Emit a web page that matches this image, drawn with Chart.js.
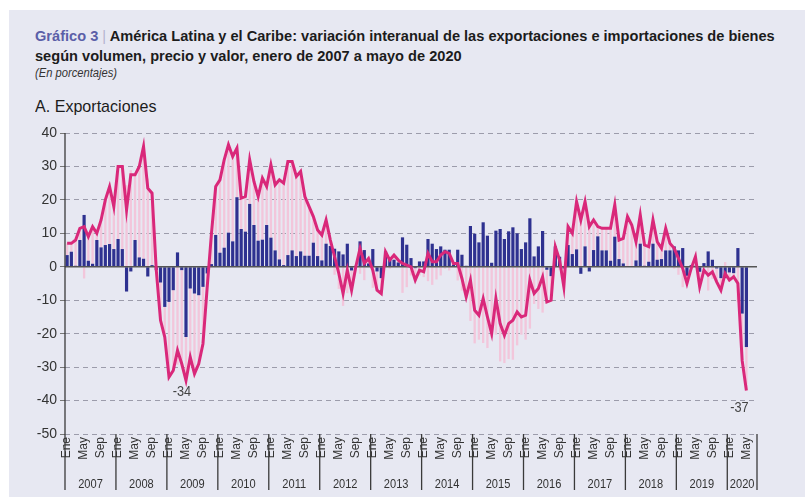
<!DOCTYPE html>
<html lang="es">
<head>
<meta charset="utf-8">
<title>Gráfico 3</title>
<script src="https://cdn.jsdelivr.net/npm/chart.js@4.4.1/dist/chart.umd.min.js"></script>
<style>
  html, body { margin: 0; padding: 0; background: #fff; }
  body { width: 805px; height: 504px; position: relative; overflow: hidden;
         font-family: 'Liberation Sans', Arial, sans-serif; color: #1c1c1c; }
  #panel { position: absolute; left: 9px; top: 10px; width: 796px; height: 487px; background: #e7e8f2; }
  .txt { position: absolute; left: 35px; white-space: nowrap; line-height: 20px; transform-origin: 0 50%; }
  #t1 { top: 26px; font-size: 15.5px; font-weight: bold; }
  #t1 .num { color: #5b5fa8; }
  #t1 .sep { color: #b4b4cf; font-weight: normal; }
  #t2 { top: 46px; font-size: 15.5px; font-weight: bold; }
  #t3 { top: 63px; font-size: 12px; font-style: italic; color: #333; }
  #t4 { top: 97px; font-size: 17px; color: #1c1c1c; }
  #wrap { position: absolute; left: 0; top: 118px; width: 805px; height: 382px; }
</style>
</head>
<body>
<div id="panel"></div>
<div class="txt" id="t1"><span class="num">Gráfico 3</span> <span class="sep">|</span> América Latina y el Caribe: variación interanual de las exportaciones e importaciones de bienes</div>
<div class="txt" id="t2">según volumen, precio y valor, enero de 2007 a mayo de 2020</div>
<div class="txt" id="t3">(En porcentajes)</div>
<div class="txt" id="t4">A. Exportaciones</div>
<div id="wrap"><canvas id="grafico"></canvas></div>
<script>
const fuente = "'Liberation Sans', Arial, sans-serif";

const years = [2007, 2008, 2009, 2010, 2011, 2012, 2013, 2014, 2015, 2016, 2017, 2018, 2019, 2020];
const monthNames = ['Ene', 'Feb', 'Mar', 'Abr', 'May', 'Jun', 'Jul', 'Ago', 'Sep', 'Oct', 'Nov', 'Dic'];
const shownMonths = ['Ene', 'May', 'Sep'];

// valor (linea), enero 2007 - mayo 2020
const valor = [
  7, 7, 8, 11.5, 12, 9, 12, 10, 14, 20, 24, 18,
  30, 30, 17, 27.5, 27.5, 30, 36, 23.5, 22, -1, -16, -21,
  -33, -31, -25, -29, -34, -27, -32, -29, -23, -6, 10, 24,
  26, 32, 36.5, 33, 35.5, 20.5, 21, 32, 25.5, 21, 26.5, 24,
  30.5, 24.5, 26, 25, 31.5, 31.5, 27, 28.5, 21, 18, 15, 11,
  9.5, 14, 8, 3, -2, -8, -1, -7, 0, 5.5, 1, 2.5,
  -1, -7, -8, 4.5, 2, 3.5, 2, 1, 0.5, 0, -4, -1,
  -1.5, 4, 1.5, 1.5, 3.5, 4.5, 4, 1, 1, -3.5, -9, -4,
  -13, -14.5, -9.5, -15, -20, -9.5, -17, -20.5, -17, -16, -13.5, -15,
  -14.5, -4, -8, -6.5, -3, -10.5, -10, 6, 2, -6, 12, 10,
  19.5, 14, 19.5, 12, 14, 12, 11.5, 11.5, 11.5, 18.5, 8, 8.5,
  15, 12.5, 7.5, 15.5, 6.5, 6, 14, 7.5, 5.5, 11.5, 7, 5.5,
  2.5, -0.5, -5, -0.5, 3, -6, -1, -2.5, -1.5, -4.5, -7, -2,
  -4, -3, -5, -28, -37
];

// volumen (barras azules)
const volumen = [
  3.5, 4.5, 0.3, 8, 15.5, 1.8, 0.9, 8, 5.8, 6.5, 6.8, 5.3,
  8.3, 5.3, -7.4, -1.4, 8, 2.8, 2.4, -2.9, 0.5, -1, -4.7, -12,
  -10.5, -7, 4.3, -1, -21, -6.5, -8, -8.5, -6, -2, 0.8, 9.5,
  4.2, 5.7, 10.2, 7.6, 20.8, 11.3, 10.5, 18.8, 12.5, 7.8, 8.1, 12.5,
  8.7, 4.9, 2.2, 0.5, 3.5, 4.9, 3.2, 4.6, 3.3, 3.3, 7.2, 3.2,
  1.9, 6.9, 6.2, 5.4, 4.6, 3.7, 6.9, -1.1, 0.3, 7.6, 5, 1,
  5.3, -1.4, -3.4, 4.6, 2.6, 2.1, 1.3, 8.8, 6.6, 2.6, -0.4, 1.6,
  1.6, 8.3, 6.9, 5.3, 6.1, 5.1, 5.1, 0.6, 5.1, 3.6, 0.3, 12.2,
  9.9, 7.3, 13.3, 9.3, 1.2, 10.8, 11.3, 8.3, 10.6, 11.8, 10, 5.3,
  7.3, 14.5, 3.1, 6.1, 10.7, -0.9, -2.8, 6.1, 3, -0.5, 6.5, 3.8,
  5.2, -2.1, 6.1, -1.4, 5, 9.1, 4.9, 4.9, 1.8, 9, 2.3, 1,
  0, 0, 1.9, 6.9, 0.3, 1.5, 6.9, 2.1, 2.3, 4.9, 4.9, 6.1,
  4.9, 5.6, -2.7, 0.5, 0.3, -1.5, 1.1, 4.6, 2.1, -0.5, -3.4, -3.4,
  -1.7, -1.9, 5.6, -14, -24
];

// precio (barras rosadas)
const precio = [
  3.5, 2.5, 7.7, 3.5, -3.5, 7.2, 11.1, 2, 8.2, 13.5, 17.2, 12.7,
  21.7, 24.7, 24.4, 28.9, 19.5, 27.2, 33.6, 26.4, 21.5, 0, -11.3, -9,
  -22.5, -24, -29.3, -28, -13, -20.5, -24, -20.5, -17, -4, 9.2, 14.5,
  21.8, 26.3, 26.3, 25.4, 14.7, 9.2, 10.5, 13.2, 13, 13.2, 18.4, 11.5,
  21.8, 19.6, 23.8, 24.5, 28, 26.6, 23.8, 23.9, 17.7, 14.7, 7.8, 7.8,
  7.6, 7.1, 1.8, -2.4, -6.6, -11.7, -7.9, -5.9, -0.3, -2.1, -4, 1.5,
  -6.3, -5.6, -4.6, -0.1, -0.6, 1.4, 0.7, -7.8, -6.1, -2.6, -3.6, -2.6,
  -3.1, -4.3, -5.4, -3.8, -2.6, -0.6, -1.1, 0.4, -4.1, -7.1, -9.3, -16.2,
  -22.9, -21.8, -22.8, -24.3, -21.2, -20.3, -28.3, -28.8, -27.6, -27.8, -23.5, -20.3,
  -21.8, -18.5, -11.1, -12.6, -13.7, -9.6, -7.2, -0.1, -1, -5.5, 5.5, 6.2,
  14.3, 16.1, 13.4, 13.4, 9, 2.9, 6.6, 6.6, 9.7, 9.5, 5.7, 7.5,
  15, 12.5, 5.6, 8.6, 6.2, 4.5, 7.1, 5.4, 3.2, 6.6, 2.1, -0.6,
  -2.4, -6.1, -2.3, -1, 2.7, -4.5, -2.1, -7.1, -3.6, -4, -3.6, 1.4,
  -2.3, -1.1, -10.6, -14, -13
];

const yMin = -50, yMax = 40, yStep = 10;
const notes = [{ index: 28, text: '-34' }, { index: 160, text: '-37' }];

let labels = [];
years.forEach(y => monthNames.forEach(m => labels.push(m + ' ' + y)));
labels = labels.slice(0, valor.length).concat(['', '']);

// texto del titulo ajustado al ancho del original
function ajustar(id, ancho) {
    const el = document.getElementById(id);
    const k = ancho / el.scrollWidth;
    el.style.transform = 'scaleX(' + k + ')';
    return k;
}
const kTitulo = ajustar('t1', 740);
document.getElementById('t2').style.transform = 'scaleX(' + kTitulo + ')';
ajustar('t3', 82);
ajustar('t4', 122);

function textoAngosto(ctx, txt, x, y, k) {
    ctx.save();
    ctx.translate(x, y);
    ctx.scale(k, 1);
    ctx.fillText(txt, 0, 0);
    ctx.restore();
}

const marcos = {
    id: 'marcos',
    beforeDatasetDraw(chart, args) {
        if (args.index !== 0) return;
        const { ctx, chartArea, scales: { y } } = chart;
        const y0 = y.getPixelForValue(0);
        ctx.save();
        ctx.strokeStyle = '#555';
        ctx.lineWidth = 1.5;
        ctx.beginPath();
        ctx.moveTo(chartArea.left, y0);
        ctx.lineTo(chartArea.right, y0);
        ctx.stroke();
        ctx.restore();
    },
    afterDraw(chart) {
        const { ctx, chartArea, scales: { x, y } } = chart;
        const step = x.getPixelForValue(1) - x.getPixelForValue(0);
        const bottom = chartArea.bottom + 56;
        ctx.save();
        ctx.strokeStyle = '#3a3a3a';
        ctx.lineWidth = 1.3;
        ctx.beginPath();
        ctx.moveTo(chartArea.left, chartArea.top);
        ctx.lineTo(chartArea.left, bottom);
        ctx.stroke();

        ctx.fillStyle = '#333';
        ctx.font = '13.5px ' + fuente;
        ctx.textAlign = 'center';
        ctx.textBaseline = 'middle';
        years.forEach((yr, k) => {
            const start = x.getPixelForValue(k * 12) - step / 2;
            const end = k < years.length - 1 ? start + 12 * step : chartArea.right;
            ctx.beginPath();
            ctx.moveTo(end, chartArea.bottom);
            ctx.lineTo(end, bottom);
            ctx.stroke();
            textoAngosto(ctx, String(yr), (start + end) / 2, chartArea.bottom + 50, 0.82);
        });

        ctx.font = '14.5px ' + fuente;
        ctx.fillStyle = '#444';
        notes.forEach((n, k) => {
            const px = x.getPixelForValue(n.index);
            const py = y.getPixelForValue(valor[n.index]);
            textoAngosto(ctx, n.text, px - (k ? 7 : 4), py + (k ? 17 : 12), 0.88);
        });
        ctx.restore();
    }
};

new Chart(document.getElementById('grafico'), {
    type: 'bar',
    data: {
        labels: labels,
        datasets: [{
            type: 'line',
            label: 'Valor',
            data: valor,
            borderColor: '#d9287a',
            borderWidth: 3,
            pointRadius: 0,
            tension: 0,
            order: 0
        }, {
            label: 'Volumen',
            data: volumen,
            backgroundColor: '#2e3190',
            stack: 's',
            barPercentage: 0.75,
            categoryPercentage: 1,
            order: 1
        }, {
            label: 'Precio',
            data: precio,
            backgroundColor: '#f2c6db',
            stack: 's',
            barPercentage: 0.55,
            categoryPercentage: 1,
            order: 2
        }]
    },
    options: {
        responsive: true,
        maintainAspectRatio: false,
        animation: false,
        layout: { padding: { top: 15, right: 48, left: 0, bottom: 0 } },
        plugins: { legend: { display: false }, tooltip: { enabled: false } },
        scales: {
            x: {
                stacked: true,
                grid: { display: false, drawTicks: false },
                border: { display: false },
                ticks: {
                    autoSkip: false,
                    maxRotation: 90,
                    minRotation: 90,
                    padding: 3,
                    color: '#333',
                    font: { family: fuente, size: 12 },
                    callback: (v, i) => (i < valor.length && shownMonths.includes(monthNames[i % 12])) ? monthNames[i % 12] : ''
                },
                afterFit: s => { s.height = 66; }
            },
            y: {
                stacked: true,
                min: yMin,
                max: yMax,
                ticks: { stepSize: yStep, color: '#333', padding: 3, font: { family: fuente, size: 14 } },
                grid: {
                    color: c => c.tick.value === 0 ? 'rgba(0,0,0,0)' : '#9c9cab',
                    lineWidth: 1,
                    tickLength: 5,
                    tickColor: '#777'
                },
                border: { display: false, dash: [5, 4] },
                afterFit: s => { s.width = 65; }
            }
        }
    },
    plugins: [marcos]
});
</script>
</body>
</html>
